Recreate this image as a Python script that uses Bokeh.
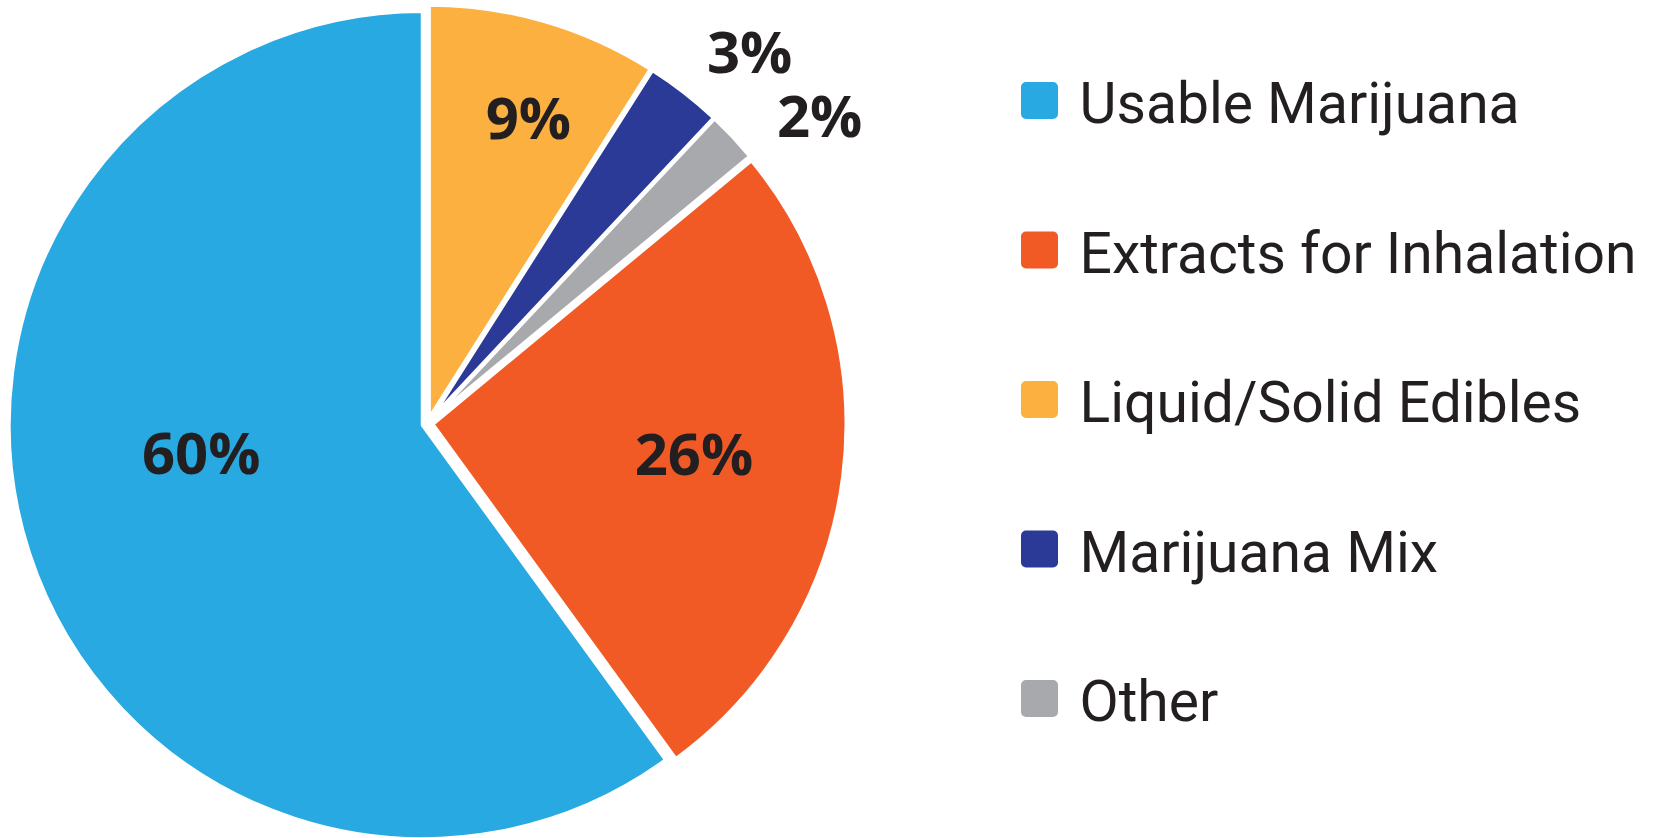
import math
from bokeh.plotting import figure
from bokeh.models import Range1d, ColumnDataSource
from bokeh.core.properties import value
from bokeh.embed import file_html
from bokeh.resources import INLINE

# ---- data ----
categories = ["Usable Marijuana", "Extracts for Inhalation", "Liquid/Solid Edibles",
              "Marijuana Mix", "Other"]
shares = [60, 26, 9, 3, 2]
colors = ["#29a9e1", "#f15a25", "#fbb040", "#2b3a97", "#a7a9ac"]
labels = ["60%", "26%", "9%", "3%", "2%"]

# order of slices counter-clockwise from 12 o'clock
pie_order = [0, 1, 4, 3, 2]

# ---- layout / style ----
W, H = 1662, 838
TOP = 838
CX, CY = 427, TOP - 423       # pie centre (data coords = screen px, y flipped)
R = 414
EXPLODE = 5
# label placement per category: (radius, angle offset in degrees from slice middle)
label_r = [228, 268, 323, 493, 499]
label_da = [-11, 1, -2, -3, -5]
TEXT = "#231f20"

p = figure(width=W, height=H, output_backend="svg", toolbar_location=None,
           x_range=Range1d(0, W), y_range=Range1d(TOP - H, TOP),
           min_border=0, outline_line_color=None)
p.axis.visible = False
p.grid.visible = False
p.background_fill_color = "white"
p.border_fill_color = "white"

total = float(sum(shares))
start = 90.0
xs, ys, sa, ea, fc = [], [], [], [], []
lx, ly, lt = [], [], []
for i in pie_order:
    span = 360.0 * shares[i] / total
    end = start + span
    mid = math.radians((start + end) / 2)
    xs.append(CX + EXPLODE * math.cos(mid))
    ys.append(CY + EXPLODE * math.sin(mid))
    sa.append(math.radians(start))
    ea.append(math.radians(end))
    fc.append(colors[i])
    la = (start + end) / 2 + label_da[i]
    lx.append(CX + label_r[i] * math.cos(math.radians(la)))
    ly.append(CY + label_r[i] * math.sin(math.radians(la)))
    lt.append(labels[i])
    start = end

src = ColumnDataSource(dict(x=xs, y=ys, sa=sa, ea=ea, c=fc))
p.wedge(x="x", y="y", radius=R, start_angle="sa", end_angle="ea", direction="anticlock",
        fill_color="c", line_color="white", line_width=4, source=src)

p.text(x=lx, y=ly, text=lt, text_font=value("Open Sans"), text_font_style="bold",
       text_font_size="58px", text_color=TEXT, text_align="center",
       text_baseline="middle")

# ---- legend ----
LEG_X = 1039
LEG_TOP = TOP - 100
LEG_STEP = 149.5
leg_y = [LEG_TOP - k * LEG_STEP for k in range(len(categories))]
p.scatter(x=[LEG_X] * len(categories), y=leg_y, marker="square", size=27,
          fill_color=colors, line_color=colors, line_width=10, line_join="round")
p.text(x=[1079] * len(categories), y=[v - 3 for v in leg_y], text=categories,
       text_font=value("Roboto"), text_font_size="57px",
       text_color=TEXT, text_align="left", text_baseline="middle")

open("out.html", "w").write(file_html(p, INLINE))
